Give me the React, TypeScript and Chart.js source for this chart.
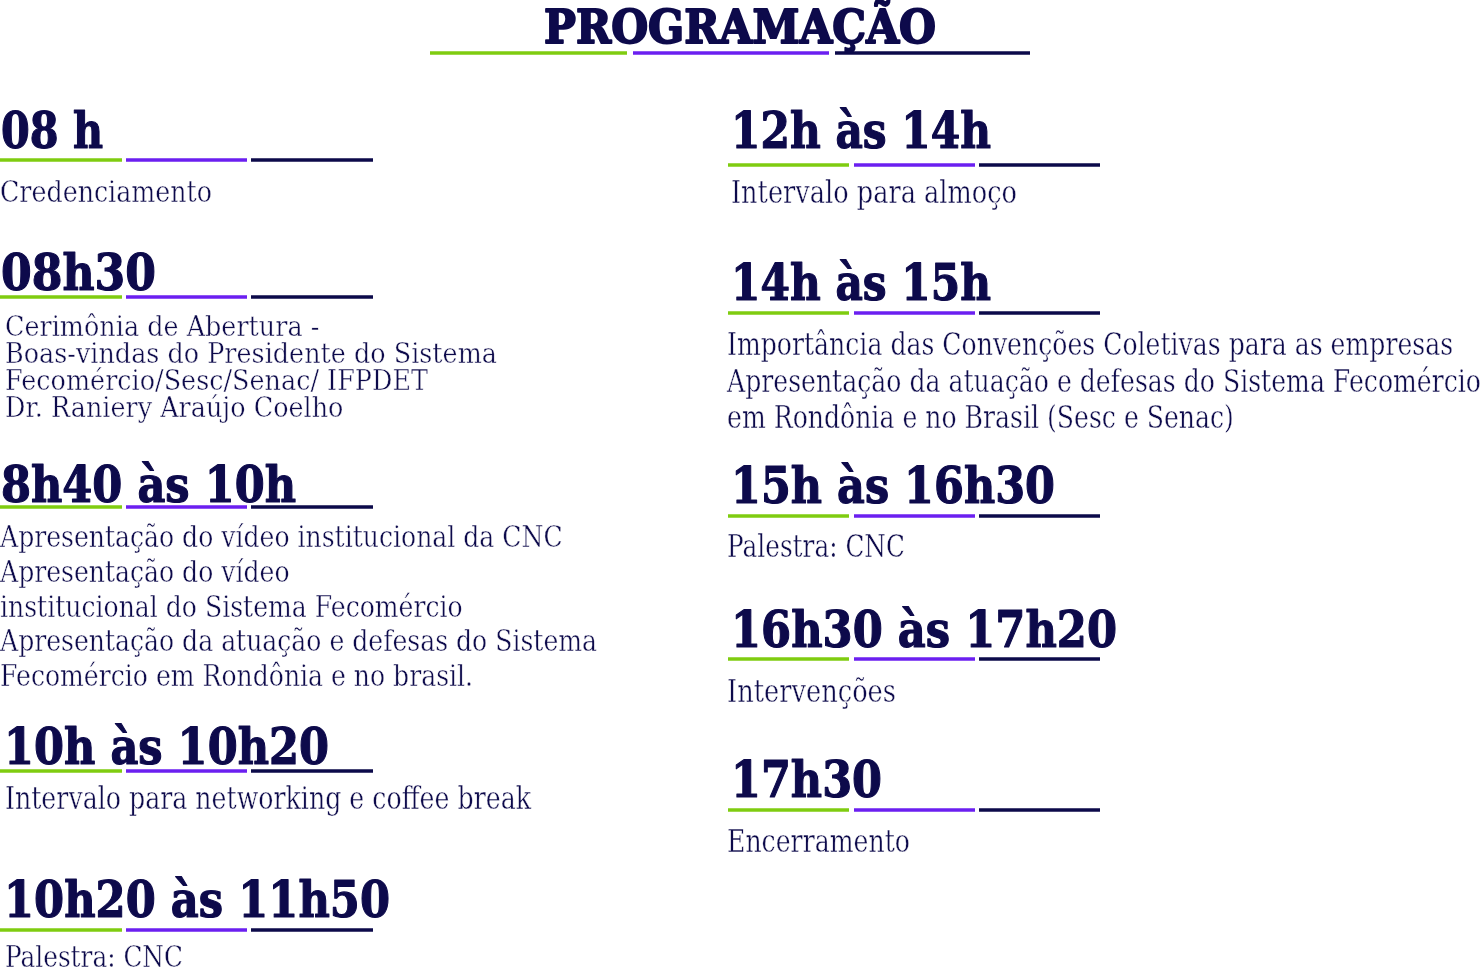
import React, { useEffect, useRef } from "react";
import { Chart, registerables } from "chart.js";

Chart.register(...registerables);

// ---------- content ----------
const title = "PROGRAMAÇÃO";

const leftTimes = ["08 h", "08h30", "8h40 às 10h", "10h às 10h20", "10h20 às 11h50"];
const leftDescriptions: string[][] = [
  ["Credenciamento"],
  [
    "Cerimônia de Abertura -",
    "Boas-vindas do Presidente do Sistema",
    "Fecomércio/Sesc/Senac/ IFPDET",
    "Dr. Raniery Araújo Coelho",
  ],
  [
    "Apresentação do vídeo institucional da CNC",
    "Apresentação do vídeo",
    "institucional do Sistema Fecomércio",
    "Apresentação da atuação e defesas do Sistema",
    "Fecomércio em Rondônia e no brasil.",
  ],
  ["Intervalo para networking e coffee break"],
  ["Palestra: CNC"],
];

const rightTimes = ["12h às 14h", "14h às 15h", "15h às 16h30", "16h30 às 17h20", "17h30"];
const rightDescriptions: string[][] = [
  ["Intervalo para almoço"],
  [
    "Importância das Convenções Coletivas para as empresas",
    "Apresentação da atuação e defesas do Sistema Fecomércio",
    "em Rondônia e no Brasil (Sesc e Senac)",
  ],
  ["Palestra: CNC"],
  ["Intervenções"],
  ["Encerramento"],
];

// ---------- styles / layout ----------
const W = 1481;
const H = 970;
const NAVY = "#0d0a4b";
const UNDERLINE_COLORS = ["#7fcc10", "#6b1ff0", "#0c0a4a"];
const LINE_WIDTH = 3.5;
const HEAD_FONT = "DejaVu Serif";
const BODY_FONT = "DejaVu Serif";
const BODY_THIN = 0.45;
const HEAD_BOLDEN = 1.2;
const TITLE_BOLDEN = 2;

const titleLayout = {
  x: 544,
  base: 43,
  size: 47,
  width: 392,
  lineY: 53,
  segments: [
    [430, 627],
    [633, 829],
    [835, 1030],
  ],
};

type Col = {
  segments: number[][];
  headX: number[];
  headBase: number[];
  headW: number[];
  lineY: number[];
  descX: number[];
  descBase: number[];
  descGap: number[];
  descSize: number[];
  descW: number[];
};

const leftLayout: Col = {
  segments: [
    [0, 122],
    [126, 247],
    [251, 373],
  ],
  headX: [1, 1, 1, 4, 4],
  headBase: [148, 290, 502, 764, 917],
  headW: [102, 155, 295, 325, 386],
  lineY: [160, 297, 507, 771, 930],
  descX: [0, 5, 0, 5, 5],
  descBase: [202, 336, 547, 809, 967],
  descGap: [0, 27, 34.8, 0, 0],
  descSize: [30, 27.5, 30, 31, 30],
  descW: [212, 492, 597, 526, 178],
};

const rightLayout: Col = {
  segments: [
    [728, 849],
    [854, 975],
    [979, 1100],
  ],
  headX: [731, 731, 731, 731, 731],
  headBase: [148, 300, 503, 647, 797],
  headW: [260, 260, 324, 386, 151],
  lineY: [165, 313, 516, 659, 810],
  descX: [731, 727, 727, 727, 727],
  descBase: [203, 355, 557, 702, 852],
  descGap: [0, 36.5, 0, 0, 0],
  descSize: [31, 31, 31, 31, 31],
  descW: [286, 754, 178, 169, 183],
};

// ---------- build line datasets for the underlines ----------
function underlineDatasets(segments: number[][], ys: number[]) {
  const out: any[] = [];
  ys.forEach((y) => {
    segments.forEach((seg, i) => {
      out.push({
        data: [
          { x: seg[0], y },
          { x: seg[1], y },
        ],
        showLine: true,
        borderColor: UNDERLINE_COLORS[i],
        borderWidth: LINE_WIDTH,
        borderCapStyle: "butt",
        pointRadius: 0,
        pointHoverRadius: 0,
        clip: false,
        fill: false,
      });
    });
  });
  return out;
}

// thin > 0 erodes glyphs with a white stroke; thin < 0 thickens with a navy stroke
function drawFitted(
  ctx: CanvasRenderingContext2D,
  lines: string[],
  x: number,
  baselines: number[],
  font: string,
  targetW: number,
  thin: number
) {
  ctx.font = font;
  let maxW = 0;
  lines.forEach((l) => (maxW = Math.max(maxW, ctx.measureText(l).width)));
  const s = maxW > 0 ? targetW / maxW : 1;
  lines.forEach((l, i) => {
    ctx.save();
    ctx.translate(x, baselines[i]);
    ctx.scale(s, 1);
    ctx.fillStyle = NAVY;
    ctx.textBaseline = "alphabetic";
    ctx.textAlign = "left";
    ctx.fillText(l, 0, 0);
    if (thin !== 0) {
      ctx.strokeStyle = thin > 0 ? "#ffffff" : NAVY;
      ctx.lineWidth = Math.abs(thin);
      ctx.lineJoin = "round";
      ctx.strokeText(l, 0, 0);
    }
    ctx.restore();
  });
}

const textPlugin = {
  id: "scheduleText",
  afterDatasetsDraw(chart: any) {
    const ctx: CanvasRenderingContext2D = chart.ctx;
    const xs = chart.scales.x;
    const ys = chart.scales.y;
    const px = (v: number) => xs.getPixelForValue(v);
    const py = (v: number) => ys.getPixelForValue(v);

    drawFitted(
      ctx,
      [title],
      px(titleLayout.x),
      [py(titleLayout.base)],
      `bold ${titleLayout.size}px "${HEAD_FONT}"`,
      titleLayout.width,
      -TITLE_BOLDEN
    );

    const cols: [string[], string[][], Col][] = [
      [leftTimes, leftDescriptions, leftLayout],
      [rightTimes, rightDescriptions, rightLayout],
    ];
    cols.forEach(([times, descs, L]) => {
      times.forEach((t, i) => {
        drawFitted(ctx, [t], px(L.headX[i]), [py(L.headBase[i])], `bold 50px "${HEAD_FONT}"`, L.headW[i], -HEAD_BOLDEN);
        const lines = descs[i];
        const bases = lines.map((_, k) => py(L.descBase[i] + k * L.descGap[i]));
        drawFitted(ctx, lines, px(L.descX[i]), bases, `${L.descSize[i]}px "${BODY_FONT}"`, L.descW[i], BODY_THIN);
      });
    });
  },
};

export default function App() {
  const ref = useRef<HTMLCanvasElement | null>(null);
  useEffect(() => {
    if (!ref.current) return;
    const datasets = [
      ...underlineDatasets(titleLayout.segments, [titleLayout.lineY]),
      ...underlineDatasets(leftLayout.segments, leftLayout.lineY),
      ...underlineDatasets(rightLayout.segments, rightLayout.lineY),
    ];
    const chart = new Chart(ref.current, {
      type: "scatter",
      data: { datasets },
      options: {
        animation: false,
        responsive: false,
        maintainAspectRatio: false,
        layout: { padding: 0 },
        events: [],
        plugins: { legend: { display: false }, tooltip: { enabled: false }, title: { display: false } },
        scales: {
          x: { type: "linear", min: 0, max: W, display: false },
          y: { type: "linear", min: 0, max: H, reverse: true, display: false },
        },
      },
      plugins: [textPlugin],
    } as any);
    return () => chart.destroy();
  }, []);
  return (
    <div style={{ position: "fixed", left: 0, top: 0, width: W, height: H, background: "#ffffff" }}>
      <canvas ref={ref} width={W} height={H} style={{ width: W, height: H, display: "block" }} />
    </div>
  );
}
